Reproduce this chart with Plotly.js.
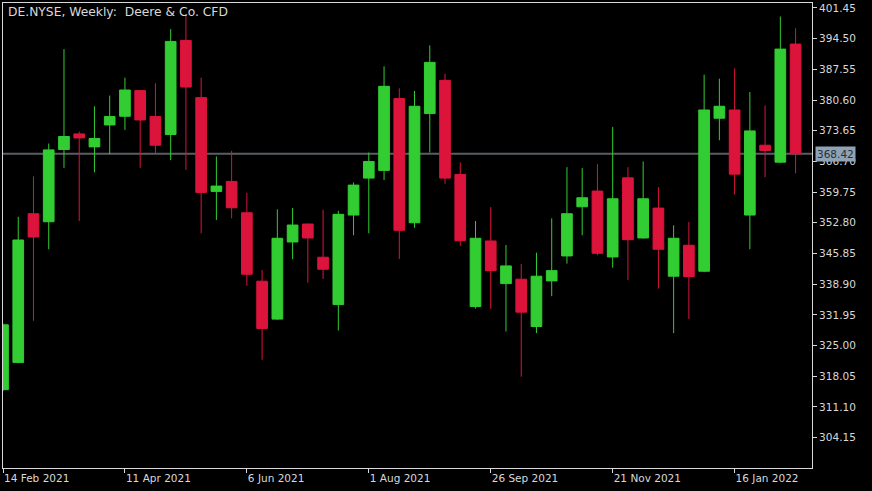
<!DOCTYPE html>
<html>
<head>
<meta charset="utf-8">
<script src="https://cdn.plot.ly/plotly-3.0.1.min.js"></script>
<style>
  html, body { margin: 0; padding: 0; background: #000; }
  #chart { width: 872px; height: 491px; }
</style>
</head>
<body>
<div id="chart"></div>
<script>
// Weekly bars (week start dates)
const weeks = [
  '2021-02-14','2021-02-21','2021-02-28','2021-03-07','2021-03-14','2021-03-21','2021-03-28',
  '2021-04-04','2021-04-11','2021-04-18','2021-04-25','2021-05-02','2021-05-09','2021-05-16',
  '2021-05-23','2021-05-30','2021-06-06','2021-06-13','2021-06-20','2021-06-27','2021-07-04',
  '2021-07-11','2021-07-18','2021-07-25','2021-08-01','2021-08-08','2021-08-15','2021-08-22',
  '2021-08-29','2021-09-05','2021-09-12','2021-09-19','2021-09-26','2021-10-03','2021-10-10',
  '2021-10-17','2021-10-24','2021-10-31','2021-11-07','2021-11-14','2021-11-21','2021-11-28',
  '2021-12-05','2021-12-12','2021-12-19','2021-12-26','2022-01-02','2022-01-09','2022-01-16',
  '2022-01-23','2022-01-30','2022-02-06','2022-02-13'
];
const openP = [
  315.00,321.17,354.85,353.04,369.40,372.93,369.99,374.96,376.93,382.74,376.86,372.79,394.10,381.15,
  359.91,362.17,355.07,339.57,330.98,348.45,352.52,345.00,334.28,354.55,362.92,364.66,380.93,352.81,
  377.54,385.06,363.75,333.83,348.68,339.03,340.02,329.31,339.64,345.29,356.43,359.98,345.06,362.98,
  349.36,356.13,340.70,347.71,341.83,376.48,378.35,354.55,370.37,366.53,393.27
];
const highP = [
  330.00,354.17,363.30,370.76,392.14,373.47,379.19,381.61,385.67,382.87,384.39,396.66,400.14,385.67,
  367.82,369.09,359.59,342.12,355.84,356.13,352.60,355.75,355.52,361.94,368.72,388.23,383.26,382.65,
  392.97,386.58,366.46,353.20,356.36,347.77,343.48,346.03,353.81,365.40,365.18,366.08,374.51,365.40,
  366.69,360.88,352.22,352.97,386.35,385.45,387.77,382.42,379.41,399.53,396.88
];
const lowP = [
  314.70,320.99,330.59,346.80,365.24,353.20,364.20,368.34,373.83,365.24,368.34,366.98,364.79,350.42,
  353.42,353.81,338.57,321.78,330.82,344.54,339.25,340.09,328.40,349.97,350.42,362.47,344.61,351.68,
  368.72,361.63,347.61,333.38,333.31,328.18,317.94,327.82,336.18,343.55,349.97,345.45,342.64,339.86,
  349.20,337.90,327.82,331.05,341.60,371.50,359.23,346.80,363.14,366.30,363.98
];
const closeP = [
  329.69,348.90,349.58,369.31,372.34,372.02,371.89,376.86,382.87,376.09,370.37,393.88,383.55,359.68,
  361.11,356.20,341.15,328.86,349.29,352.29,349.36,342.28,354.71,361.33,366.69,383.71,351.10,379.19,
  389.13,362.92,348.74,349.29,341.96,343.03,332.56,340.70,341.96,354.85,358.47,345.90,358.24,348.97,
  358.24,346.80,349.29,340.64,378.35,379.19,363.82,373.61,369.18,392.14,368.42
];
const priceTicks = [304.15,311.10,318.05,325.00,331.95,338.90,345.85,352.80,359.75,366.70,373.65,380.60,387.55,394.50,401.45];
const dateTickVals = ['2021-02-14','2021-04-11','2021-06-06','2021-08-01','2021-09-26','2021-11-21','2022-01-16'];
const dateTickText = ['14 Feb 2021','11 Apr 2021','6 Jun 2021','1 Aug 2021','26 Sep 2021','21 Nov 2021','16 Jan 2022'];
const lastPrice = 368.42;
const chartTitle = 'DE.NYSE, Weekly:  Deere & Co. CFD';

const fg = '#d8d8d8';
const fontFam = 'DejaVu Sans, sans-serif';

const trace = {
  type: 'candlestick',
  x: weeks, open: openP, high: highP, low: lowP, close: closeP,
  increasing: { line: { color: '#32CD32', width: 1 }, fillcolor: '#32CD32' },
  decreasing: { line: { color: '#DC143C', width: 1 }, fillcolor: '#DC143C' },
  whiskerwidth: 0,
  hoverinfo: 'skip'
};

const layout = {
  width: 872, height: 491,
  paper_bgcolor: '#000000', plot_bgcolor: '#000000',
  margin: { l: 3, r: 60, t: 3, b: 23, pad: 0 },
  showlegend: false,
  boxgap: 0, boxgroupgap: 0.3,
  font: { family: fontFam, size: 10.5, color: fg },
  xaxis: {
    type: 'date',
    range: ['2021-02-14', '2022-02-20 13:00'],
    rangeslider: { visible: false },
    tickvals: dateTickVals, ticktext: dateTickText,
    ticks: 'outside', ticklen: 4, tickcolor: fg, tickwidth: 1,
    ticklabelposition: 'outside right',
    showgrid: false, zeroline: false,
    showline: true, linecolor: fg, linewidth: 1, mirror: true,
    tickfont: { family: fontFam, size: 10.5, color: fg }
  },
  yaxis: {
    side: 'right',
    range: [297.26, 402.58],
    tickvals: priceTicks, ticktext: priceTicks.map(v => v.toFixed(2)),
    ticks: 'outside', ticklen: 4, tickcolor: fg, tickwidth: 1,
    showgrid: false, zeroline: false,
    showline: true, linecolor: fg, linewidth: 1, mirror: true,
    tickfont: { family: fontFam, size: 10.5, color: fg }
  },
  shapes: [{
    type: 'line', xref: 'paper', x0: 0, x1: 1, yref: 'y', y0: lastPrice, y1: lastPrice,
    line: { color: '#5a5e63', width: 2 }, layer: 'below'
  }],
  annotations: [
    {
      text: chartTitle, xref: 'paper', yref: 'paper', x: 0.004, y: 1, xanchor: 'left', yanchor: 'top',
      showarrow: false, yshift: 0, font: { family: fontFam, size: 12.3, color: fg }
    },
    {
      text: lastPrice.toFixed(2), xref: 'paper', yref: 'y', x: 1, y: lastPrice, xanchor: 'left', yanchor: 'middle',
      xshift: 3, showarrow: false, bgcolor: '#8fa3b8', borderpad: 1,
      font: { family: fontFam, size: 10.5, color: '#2b2f33' }
    }
  ]
};

Plotly.newPlot('chart', [trace], layout, { staticPlot: true, displayModeBar: false });
</script>
</body>
</html>
